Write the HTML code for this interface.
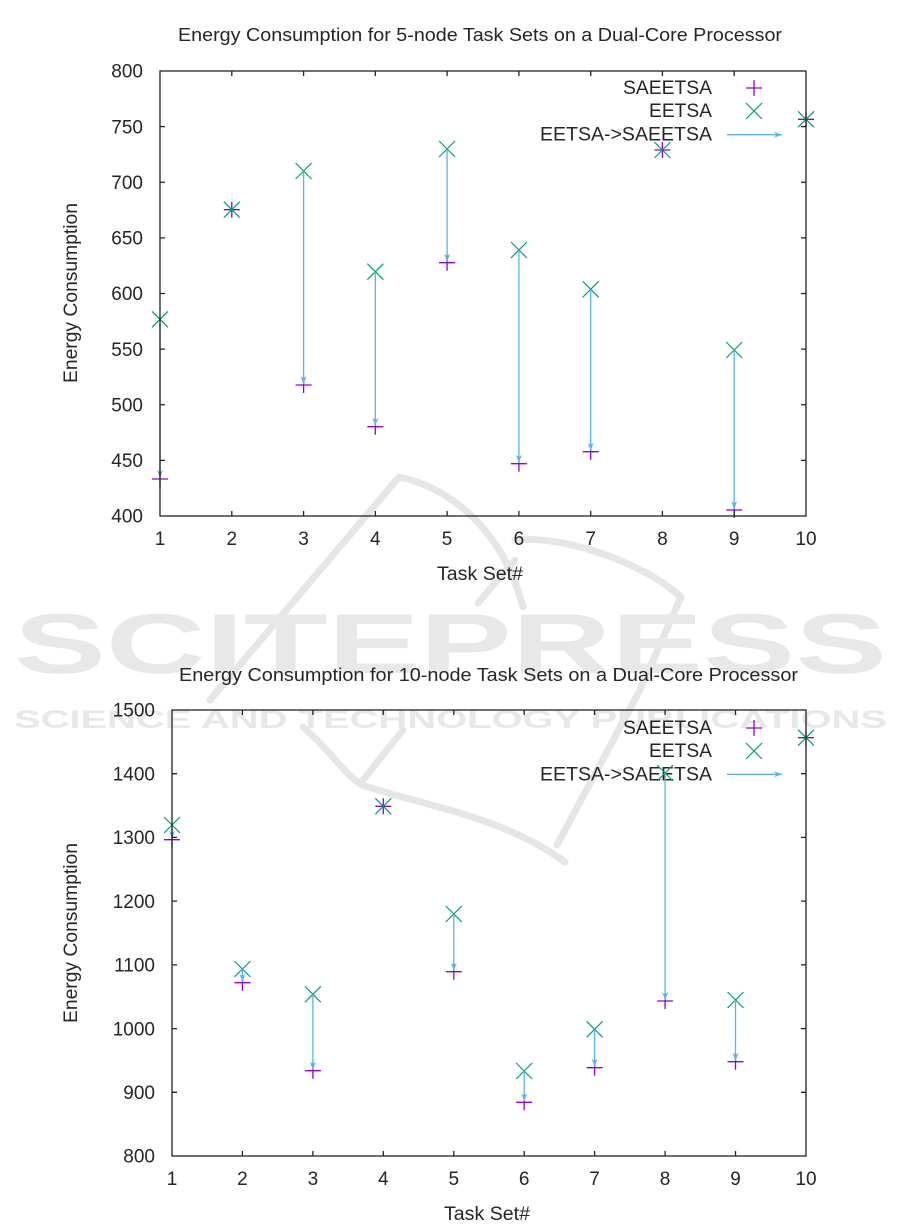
<!DOCTYPE html>
<html>
<head>
<meta charset="utf-8">
<style>
html,body{margin:0;padding:0;background:#fff;}
svg{display:block;}
text{font-family:"Liberation Sans",Arial,sans-serif;fill:#262626;}
</style>
</head>
<body>
<svg xmlns="http://www.w3.org/2000/svg" width="901" height="1231" viewBox="0 0 901 1231">
<defs>
  <g id="pl"><path d="M-8 0H8M0 -8V8" stroke="#9400d3" stroke-width="1.3" fill="none"/></g>
  <g id="cx"><path d="M-8 -8L8 8M-8 8L8 -8" stroke="#009e73" stroke-width="1.2" fill="none"/></g>
  <marker id="ah" markerUnits="userSpaceOnUse" markerWidth="10" markerHeight="8" refX="8" refY="3.5" orient="auto">
    <path d="M0,0.5 L8,3.5 L0,6.5 L2.5,3.5 z" fill="#56b4e9"/>
  </marker>
</defs>

<!-- watermark -->
<g fill="none" stroke="#e6e6e6" stroke-width="7" stroke-linecap="round" stroke-linejoin="round">
  <path d="M399,477 L210,700"/>
  <path d="M399,477 C440,485 500,520 523,607"/>
  <path d="M515,540 C560,535 640,560 681,597 L640,690 L557,845"/>
  <path d="M303,727 C330,750 345,775 362,785 C420,805 500,815 565,862"/>
  <path d="M403,730 L363,780"/>
  <path d="M478,603 L515,560"/>
</g>
<text x="14" y="673" font-size="85" font-weight="bold" textLength="873" lengthAdjust="spacingAndGlyphs" style="fill:#e8e8e8">SCITEPRESS</text>
<text x="14" y="728" font-size="25" font-weight="bold" textLength="873" lengthAdjust="spacingAndGlyphs" style="fill:#e8e8e8">SCIENCE AND TECHNOLOGY PUBLICATIONS</text>

<!-- ================= CHART 1 ================= -->
<text x="480" y="41" font-size="18.5" text-anchor="middle" textLength="604" lengthAdjust="spacingAndGlyphs">Energy Consumption for 5-node Task Sets on a Dual-Core Processor</text>

<!-- legend 1 -->
<g font-size="19" text-anchor="end">
  <text x="712" y="94" textLength="89" lengthAdjust="spacingAndGlyphs">SAEETSA</text>
  <text x="712" y="117" textLength="63" lengthAdjust="spacingAndGlyphs">EETSA</text>
  <text x="712" y="140.7" textLength="172" lengthAdjust="spacingAndGlyphs">EETSA-&gt;SAEETSA</text>
</g>
<use href="#pl" x="754" y="88"/>
<use href="#cx" x="754" y="111"/>
<path d="M727 134.7H782" stroke="#56b4e9" stroke-width="1.3" marker-end="url(#ah)"/>

<!-- points chart 1 -->
<use href="#pl" x="160" y="479"/>
<use href="#pl" x="231.8" y="209.7"/>
<use href="#pl" x="303.6" y="385"/>
<use href="#pl" x="375.3" y="426.7"/>
<use href="#pl" x="447.1" y="262.7"/>
<use href="#pl" x="518.9" y="463.7"/>
<use href="#pl" x="590.7" y="451.7"/>
<use href="#pl" x="662.4" y="150"/>
<use href="#pl" x="734.2" y="510"/>
<use href="#pl" x="806" y="119.3"/>

<use href="#cx" x="160" y="319.3"/>
<use href="#cx" x="231.8" y="209.7"/>
<use href="#cx" x="303.6" y="171"/>
<use href="#cx" x="375.3" y="271.7"/>
<use href="#cx" x="447.1" y="149"/>
<use href="#cx" x="518.9" y="250"/>
<use href="#cx" x="590.7" y="289.3"/>
<use href="#cx" x="662.4" y="150"/>
<use href="#cx" x="734.2" y="350"/>
<use href="#cx" x="806" y="119.3"/>

<g stroke="#56b4e9" stroke-width="1.3" marker-end="url(#ah)">
  <path d="M160 319.3V478"/>
  <path d="M303.6 171V384"/>
  <path d="M375.3 271.7V425.7"/>
  <path d="M447.1 149V261.7"/>
  <path d="M518.9 250V462.7"/>
  <path d="M590.7 289.3V450.7"/>
  <path d="M734.2 350V509"/>
</g>

<g stroke="#222" stroke-width="1.3" fill="none">
  <rect x="160" y="71" width="646" height="445"/>
  <path d="M160 126.6h5M160 182.25h5M160 237.9h5M160 293.5h5M160 349.1h5M160 404.75h5M160 460.4h5
           M806 126.6h-5M806 182.25h-5M806 237.9h-5M806 293.5h-5M806 349.1h-5M806 404.75h-5M806 460.4h-5"/>
  <path d="M231.8 516v-5M303.6 516v-5M375.3 516v-5M447.1 516v-5M518.9 516v-5M590.7 516v-5M662.4 516v-5M734.2 516v-5
           M231.8 71v5M303.6 71v5M375.3 71v5M447.1 71v5M518.9 71v5M590.7 71v5M662.4 71v5M734.2 71v5"/>
</g>

<g font-size="19" text-anchor="end">
  <text x="143" y="77.7">800</text>
  <text x="143" y="133.3">750</text>
  <text x="143" y="189">700</text>
  <text x="143" y="244.6">650</text>
  <text x="143" y="300.2">600</text>
  <text x="143" y="355.8">550</text>
  <text x="143" y="411.5">500</text>
  <text x="143" y="467.1">450</text>
  <text x="143" y="522.7">400</text>
</g>
<g font-size="19" text-anchor="middle">
  <text x="160" y="545">1</text>
  <text x="231.8" y="545">2</text>
  <text x="303.6" y="545">3</text>
  <text x="375.3" y="545">4</text>
  <text x="447.1" y="545">5</text>
  <text x="518.9" y="545">6</text>
  <text x="590.7" y="545">7</text>
  <text x="662.4" y="545">8</text>
  <text x="734.2" y="545">9</text>
  <text x="806" y="545">10</text>
</g>
<text x="480" y="580" font-size="19" text-anchor="middle" textLength="86" lengthAdjust="spacingAndGlyphs">Task Set#</text>
<text transform="translate(77,293) rotate(-90)" font-size="19" text-anchor="middle" textLength="180" lengthAdjust="spacingAndGlyphs">Energy Consumption</text>

<!-- ================= CHART 2 ================= -->
<text x="488.5" y="681" font-size="18.5" text-anchor="middle" textLength="619" lengthAdjust="spacingAndGlyphs">Energy Consumption for 10-node Task Sets on a Dual-Core Processor</text>

<!-- legend 2 -->
<g font-size="19" text-anchor="end">
  <text x="712" y="734" textLength="89" lengthAdjust="spacingAndGlyphs">SAEETSA</text>
  <text x="712" y="757" textLength="63" lengthAdjust="spacingAndGlyphs">EETSA</text>
  <text x="712" y="780.5" textLength="172" lengthAdjust="spacingAndGlyphs">EETSA-&gt;SAEETSA</text>
</g>
<use href="#pl" x="754" y="728"/>
<use href="#cx" x="754" y="751"/>
<path d="M727 774.3H782" stroke="#56b4e9" stroke-width="1.3" marker-end="url(#ah)"/>

<!-- points chart 2 -->
<use href="#pl" x="172" y="839.7"/>
<use href="#pl" x="242.4" y="982.7"/>
<use href="#pl" x="312.9" y="1070.7"/>
<use href="#pl" x="383.3" y="806.3"/>
<use href="#pl" x="453.8" y="971.7"/>
<use href="#pl" x="524.2" y="1102.3"/>
<use href="#pl" x="594.6" y="1067.7"/>
<use href="#pl" x="665.1" y="1001"/>
<use href="#pl" x="735.5" y="1061.7"/>
<use href="#pl" x="806" y="737.7"/>

<use href="#cx" x="172" y="825"/>
<use href="#cx" x="242.4" y="969"/>
<use href="#cx" x="312.9" y="994.3"/>
<use href="#cx" x="383.3" y="806.3"/>
<use href="#cx" x="453.8" y="914"/>
<use href="#cx" x="524.2" y="1071"/>
<use href="#cx" x="594.6" y="1029.3"/>
<use href="#cx" x="665.1" y="773"/>
<use href="#cx" x="735.5" y="1000"/>
<use href="#cx" x="806" y="737.7"/>

<g stroke="#56b4e9" stroke-width="1.3" marker-end="url(#ah)">
  <path d="M172 825V838.7"/>
  <path d="M242.4 969V981.7"/>
  <path d="M312.9 994.3V1069.7"/>
  <path d="M453.8 914V970.7"/>
  <path d="M524.2 1071V1101.3"/>
  <path d="M594.6 1029.3V1066.7"/>
  <path d="M665.1 773V1000"/>
  <path d="M735.5 1000V1060.7"/>
</g>

<g stroke="#222" stroke-width="1.3" fill="none">
  <rect x="172" y="710" width="634" height="446"/>
  <path d="M172 773.7h5M172 837.4h5M172 901.1h5M172 964.9h5M172 1028.6h5M172 1092.3h5
           M806 773.7h-5M806 837.4h-5M806 901.1h-5M806 964.9h-5M806 1028.6h-5M806 1092.3h-5"/>
  <path d="M242.4 1156v-5M312.9 1156v-5M383.3 1156v-5M453.8 1156v-5M524.2 1156v-5M594.6 1156v-5M665.1 1156v-5M735.5 1156v-5
           M242.4 710v5M312.9 710v5M383.3 710v5M453.8 710v5M524.2 710v5M594.6 710v5M665.1 710v5M735.5 710v5"/>
</g>

<g font-size="19" text-anchor="end">
  <text x="155" y="716.7">1500</text>
  <text x="155" y="780.4">1400</text>
  <text x="155" y="844.1">1300</text>
  <text x="155" y="907.8">1200</text>
  <text x="155" y="971.6">1100</text>
  <text x="155" y="1035.3">1000</text>
  <text x="155" y="1099">900</text>
  <text x="155" y="1162.7">800</text>
</g>
<g font-size="19" text-anchor="middle">
  <text x="172" y="1185">1</text>
  <text x="242.4" y="1185">2</text>
  <text x="312.9" y="1185">3</text>
  <text x="383.3" y="1185">4</text>
  <text x="453.8" y="1185">5</text>
  <text x="524.2" y="1185">6</text>
  <text x="594.6" y="1185">7</text>
  <text x="665.1" y="1185">8</text>
  <text x="735.5" y="1185">9</text>
  <text x="806" y="1185">10</text>
</g>
<text x="487" y="1220" font-size="19" text-anchor="middle" textLength="86" lengthAdjust="spacingAndGlyphs">Task Set#</text>
<text transform="translate(77,933) rotate(-90)" font-size="19" text-anchor="middle" textLength="180" lengthAdjust="spacingAndGlyphs">Energy Consumption</text>
</svg>
</body>
</html>
